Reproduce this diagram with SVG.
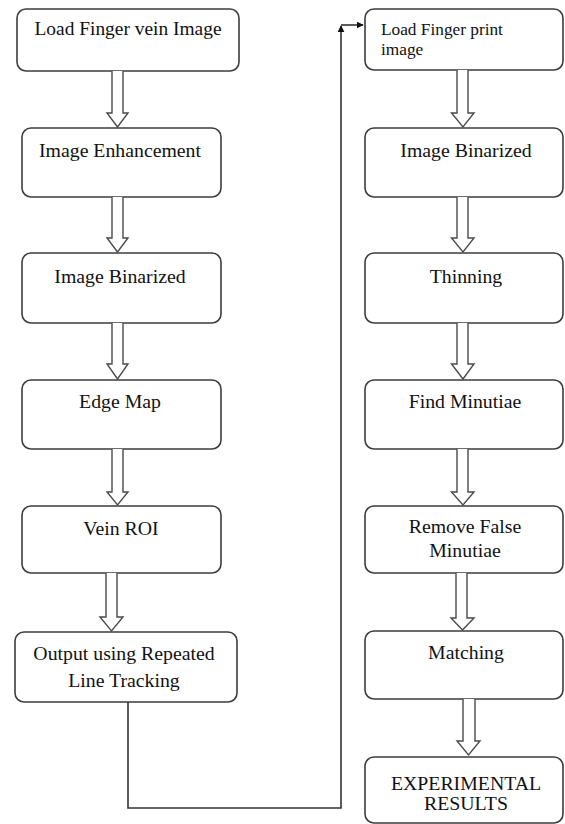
<svg xmlns="http://www.w3.org/2000/svg" width="565" height="824" viewBox="0 0 565 824">
<style>
.box{fill:#fff;stroke:#3c3c3c;stroke-width:1.6}
.blk{fill:#fff;stroke:#4a4a4a;stroke-width:1.4;stroke-linejoin:miter}
.t{font-family:"Liberation Serif","Times New Roman",serif;font-size:19.8px;fill:#111;text-anchor:middle}
.ts{font-family:"Liberation Serif","Times New Roman",serif;font-size:17.3px;fill:#111}
.con{fill:none;stroke:#333;stroke-width:1.6}
</style>
<defs>
<marker id="ah" viewBox="0 0 10 10" refX="9" refY="5" markerWidth="7" markerHeight="7" markerUnits="userSpaceOnUse" orient="auto">
<path d="M0,0 L10,5 L0,10 Z" fill="#111"/>
</marker>
</defs>
<rect width="565" height="824" fill="#fff"/>

<g id="n1"><rect class="box" x="17" y="9" width="222" height="62" rx="9"/><text class="t" x="128" y="35" textLength="187" lengthAdjust="spacingAndGlyphs">Load Finger vein Image</text></g>
<g id="n2"><rect class="box" x="22" y="128" width="199" height="69" rx="9"/><text class="t" x="120" y="157">Image Enhancement</text></g>
<g id="n3"><rect class="box" x="22" y="253" width="199" height="70" rx="9"/><text class="t" x="120" y="283">Image Binarized</text></g>
<g id="n4"><rect class="box" x="22" y="380" width="199" height="69" rx="9"/><text class="t" x="120" y="408">Edge Map</text></g>
<g id="n5"><rect class="box" x="22" y="506" width="199" height="67" rx="9"/><text class="t" x="121" y="535">Vein ROI</text></g>
<g id="n6"><rect class="box" x="15" y="632" width="222" height="70" rx="9"/><text class="t" x="124" y="660">Output using Repeated</text><text class="t" x="124" y="687">Line Tracking</text></g>

<g id="n7"><rect class="box" x="365" y="9" width="198" height="61" rx="9"/><text class="ts" x="381" y="35">Load Finger print</text><text class="ts" x="381" y="55">image</text></g>
<g id="n8"><rect class="box" x="365" y="128" width="198" height="69" rx="9"/><text class="t" x="466" y="157">Image Binarized</text></g>
<g id="n9"><rect class="box" x="365" y="253" width="198" height="70" rx="9"/><text class="t" x="466" y="283">Thinning</text></g>
<g id="n10"><rect class="box" x="365" y="380" width="198" height="69" rx="9"/><text class="t" x="465" y="408">Find Minutiae</text></g>
<g id="n11"><rect class="box" x="365" y="506" width="198" height="67" rx="9"/><text class="t" x="465" y="533">Remove False</text><text class="t" x="465" y="557">Minutiae</text></g>
<g id="n12"><rect class="box" x="365" y="631" width="198" height="68" rx="9"/><text class="t" x="466" y="659">Matching</text></g>
<g id="n13"><rect class="box" x="365" y="757" width="198" height="66" rx="9"/><text class="t" x="466" y="790">EXPERIMENTAL</text><text class="t" x="466" y="810">RESULTS</text></g>

<g id="connectors">
<path class="blk" d="M112,71 V113 H107 L117.5,127 L128,113 H123 V71"/>
<path class="blk" d="M112,197 V238 H107 L117.5,252 L128,238 H123 V197"/>
<path class="blk" d="M112,323 V364 H107 L117.5,379 L128,364 H123 V323"/>
<path class="blk" d="M112,449 V492 H107 L117.5,505 L128,492 H123 V449"/>
<path class="blk" d="M106,573 V617 H100 L111.5,631 L123,617 H117 V573"/>

<path class="blk" d="M457,70 V113 H451.5 L463,127 L474,113 H468 V70"/>
<path class="blk" d="M457,197 V238 H451.5 L463,252 L474,238 H468 V197"/>
<path class="blk" d="M457,323 V364 H451.5 L463,379 L474,364 H468 V323"/>
<path class="blk" d="M457,449 V492 H451.5 L463,505 L474,492 H468 V449"/>
<path class="blk" d="M456,573 V618 H451 L462.5,630 L474,618 H467 V573"/>
<path class="blk" d="M463,699 V741 H457 L468.5,755 L480,741 H475 V699"/>

<path class="con" d="M128,702 V808 H341 V26" marker-end="url(#ah)"/>
<path class="con" d="M341,25 H363" marker-end="url(#ah)"/>
</g>
</svg>
